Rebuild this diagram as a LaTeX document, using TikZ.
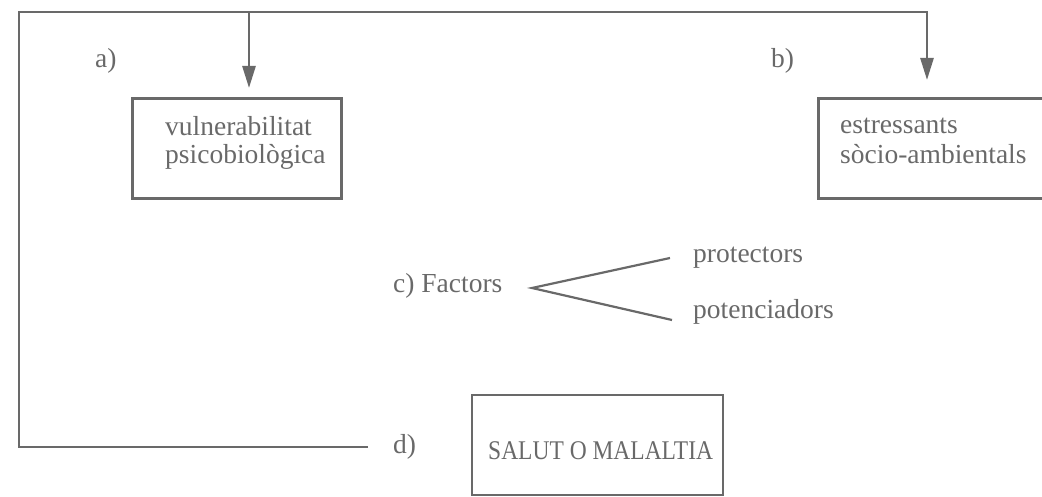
\documentclass[tikz,border=0pt]{standalone}
\usepackage{fontspec}
\setmainfont{Liberation Serif}
\usetikzlibrary{arrows.meta}
\definecolor{ink}{RGB}{105,105,105}
\begin{document}
\begin{tikzpicture}[x=1pt,y=-1pt,
  line/.style={draw=ink, line width=2.6pt},
  arr/.style={line, -{Triangle[length=22pt,width=13pt]}},
  box/.style={draw=ink, line width=2.6pt, rectangle, inner sep=0pt, minimum height=100pt},
  lbl/.style={text=ink, font=\fontsize{27.5}{30}\selectfont, inner sep=0pt, anchor=base west}]
\useasboundingbox (0,0) rectangle (1042,497);
\clip (0,0) rectangle (1042,497);
% boxes
\node[box, minimum width=209pt, anchor=north west] (vuln) at (131,97) {};
\node[box, minimum width=260pt, anchor=north west] (stress) at (817,97) {};
\node[box, minimum width=251pt] (salut) at (597.5,445) {};
% box texts
\node[lbl] (vuln1) at (165,136) {vulnerabilitat};
\node[lbl] (vuln2) at (165,164) {psicobiològica};
\node[lbl] (stress1) at (840,134) {estressants};
\node[lbl] (stress2) at (840,164) {sòcio-ambientals};
\node[lbl, font=\fontsize{27}{30}\selectfont] (salut1) at (488,459) {\scalebox{0.87}[1]{SALUT O MALALTIA}};
% labels
\node[lbl] (la) at (95,68) {a)};
\node[lbl] (lb) at (771,68) {b)};
\node[lbl] (lc) at (393,293) {c) Factors};
\node[lbl] (prot) at (693,263) {protectors};
\node[lbl] (pot) at (693,318) {potenciadors};
\node[lbl] (ld) at (393,453) {d)};
% frame connector
\coordinate (dend) at (368,447);
\coordinate (cornerBL) at (19,447);
\coordinate (cornerTL) at (19,12);
\coordinate (topA) at (249,12);
\coordinate (topR) at (927,12);
\draw[line] (dend) -- (cornerBL) -- (cornerTL) -- (topR) -- (topR |- 0,30);
\draw[arr, shorten >=9pt] (topA) -- (topA |- vuln.north);
\draw[arr, shorten >=17pt] (topR) -- (topR |- stress.north);
% factors branches
\coordinate (apex) at (532,288);
\coordinate (ptop) at (670,258);
\coordinate (pbot) at (672,320);
\draw[line, line width=2.2pt] (ptop) -- (apex) -- (pbot);
\end{tikzpicture}
\end{document}
